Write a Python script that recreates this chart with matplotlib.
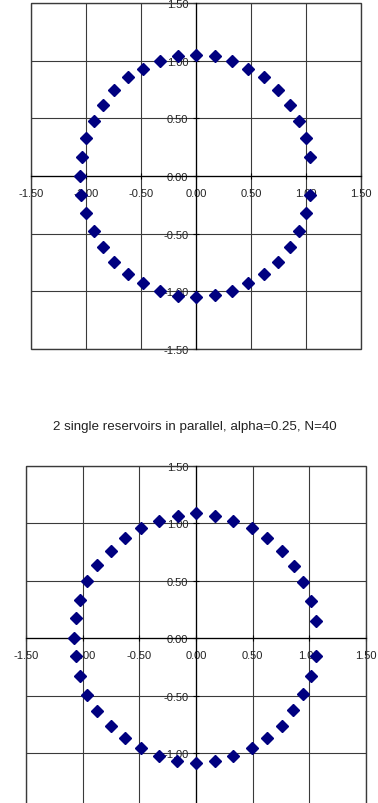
import matplotlib
matplotlib.use("Agg")
import matplotlib.pyplot as plt
from matplotlib.patches import Rectangle

plt.rcParams['font.family'] = ['Liberation Sans', 'DejaVu Sans']

# ---- data ----
top_x = [-1.054, -1.039, -0.996, -0.930, -0.848, -0.742, -0.621, -0.482, -0.324, -0.164,
         0.0, 0.170, 0.327, 0.476, 0.615, 0.745, 0.855, 0.934, 1.000, 1.040,
         -1.045, -0.996, -0.930, -0.848, -0.742, -0.621, -0.482, -0.324, -0.164,
         0.0, 0.170, 0.327, 0.476, 0.615, 0.745, 0.855, 0.934, 1.000, 1.034]
top_y = [0.0, 0.167, 0.330, 0.480, 0.618, 0.746, 0.856, 0.931, 0.997, 1.043,
         1.052, 1.038, 0.997, 0.931, 0.856, 0.746, 0.618, 0.480, 0.330, 0.167,
         -0.162, -0.324, -0.474, -0.618, -0.743, -0.853, -0.931, -0.997, -1.038,
         -1.052, -1.032, -0.997, -0.931, -0.853, -0.743, -0.618, -0.474, -0.324, -0.162]

bot_x = [-1.079, -1.062, -1.024, -0.959, -0.870, -0.753, -0.629, -0.482, -0.329, -0.159,
         0.0, 0.165, 0.327, 0.494, 0.630, 0.759, 0.862, 0.948, 1.012, 1.056,
         -1.062, -1.026, -0.959, -0.870, -0.753, -0.629, -0.482, -0.329, -0.164,
         0.0, 0.168, 0.327, 0.494, 0.630, 0.759, 0.856, 0.948, 1.012, 1.056]
bot_y = [0.0, 0.174, 0.336, 0.496, 0.637, 0.762, 0.870, 0.957, 1.020, 1.066,
         1.087, 1.066, 1.020, 0.957, 0.870, 0.762, 0.631, 0.487, 0.327, 0.153,
         -0.151, -0.330, -0.493, -0.633, -0.760, -0.870, -0.957, -1.021, -1.070,
         -1.084, -1.064, -1.021, -0.957, -0.870, -0.760, -0.624, -0.487, -0.325, -0.151]

ticks = [-1.5, -1.0, -0.5, 0.0, 0.5, 1.0, 1.5]
tick_labels = ["-1.50", "-1.00", "-0.50", "0.00", "0.50", "1.00", "1.50"]
title_bottom = "2 single reservoirs in parallel, alpha=0.25, N=40"

W, H = 378, 804
fig = plt.figure(figsize=(W / 100, H / 100), dpi=100)


def make_axes(left, right, top, bottom):
    return fig.add_axes([left / W, 1 - bottom / H, (right - left) / W, (bottom - top) / H])


def style(ax, xs, ys, ylabels):
    ax.set_xlim(-1.5, 1.5)
    ax.set_ylim(-1.5, 1.5)
    ax.set_xticks(ticks)
    ax.set_yticks(ticks)
    ax.set_xticklabels(tick_labels)
    ax.set_yticklabels(ylabels)
    ax.grid(True, color="#3a3a3a", linewidth=0.8)
    ax.set_axisbelow(True)
    for s in ("top", "right"):
        ax.spines[s].set_visible(False)
    ax.spines["left"].set_position(("data", 0))
    ax.spines["bottom"].set_position(("data", 0))
    for s in ("left", "bottom"):
        ax.spines[s].set_color("black")
        ax.spines[s].set_linewidth(0.9)
    ax.tick_params(axis="x", direction="inout", length=4, width=0.8, pad=6.5,
                   labelsize=8, labelcolor="#222222")
    ax.tick_params(axis="y", direction="inout", length=4, width=0.8, pad=3.5,
                   labelsize=8, labelcolor="#222222")
    for lab in ax.get_xticklabels() + ax.get_yticklabels():
        lab.set_clip_on(False)
    ax.add_patch(Rectangle((0, 0), 1, 1, transform=ax.transAxes, fill=False,
                           edgecolor="#3a3a3a", linewidth=1.0, clip_on=False))
    ax.plot(xs, ys, linestyle="none", marker="D", markersize=6.6,
            color="#000080", markeredgecolor="#000080", zorder=4, clip_on=False)


ax1 = make_axes(31, 361, 4, 350)
style(ax1, top_x, top_y, tick_labels)

ax2 = make_axes(26, 366, 467, 811.8)
# the lowest label of the second chart falls below the picture's edge
style(ax2, bot_x, bot_y, [""] + tick_labels[1:])

fig.text(194.5 / W, 1 - 427 / H, title_bottom, ha="center", va="center",
         fontsize=9.6, color="#222222")

fig.savefig("out.png", dpi=100)
